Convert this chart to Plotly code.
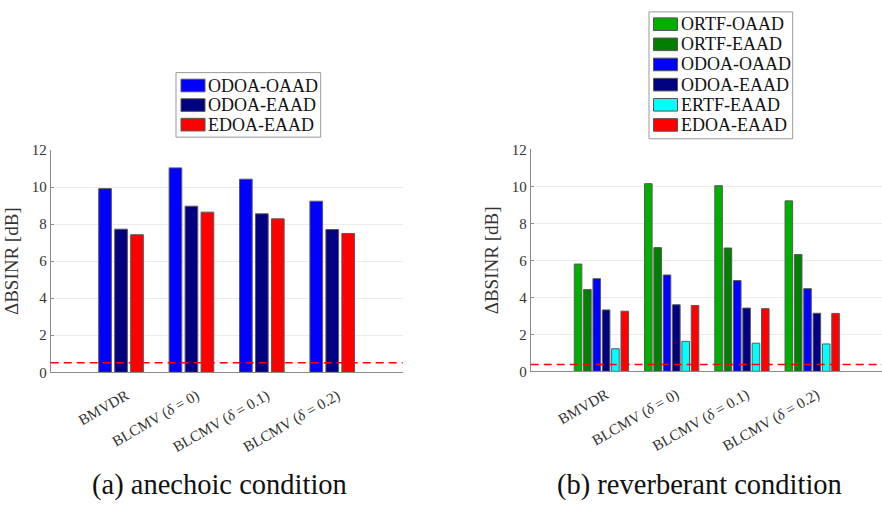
import plotly.graph_objects as go

# ---------------- data ----------------
categories = ["BMVDR", "BLCMV (δ = 0)", "BLCMV (δ = 0.1)", "BLCMV (δ = 0.2)"]
tick_labels = ["BMVDR", "BLCMV (<i>δ</i> = 0)", "BLCMV (<i>δ</i> = 0.1)", "BLCMV (<i>δ</i> = 0.2)"]

# (a) anechoic condition
a_names = ["ODOA-OAAD", "ODOA-EAAD", "EDOA-EAAD"]
a_odoa_oaad = [9.92, 11.04, 10.43, 9.24]
a_odoa_eaad = [7.73, 8.97, 8.56, 7.71]
a_edoa_eaad = [7.43, 8.65, 8.29, 7.50]
a_threshold = 0.52

# (b) reverberant condition
b_names = ["ORTF-OAAD", "ORTF-EAAD", "ODOA-OAAD", "ODOA-EAAD", "ERTF-EAAD", "EDOA-EAAD"]
b_ortf_oaad = [5.80, 10.15, 10.04, 9.22]
b_ortf_eaad = [4.42, 6.69, 6.67, 6.32]
b_odoa_oaad = [5.01, 5.21, 4.91, 4.47]
b_odoa_eaad = [3.32, 3.60, 3.42, 3.14]
b_ertf_eaad = [1.22, 1.62, 1.52, 1.48]
b_edoa_eaad = [3.25, 3.56, 3.39, 3.13]
b_threshold = 0.37

y_ticks = [0, 2, 4, 6, 8, 10, 12]
y_title = "ΔBSINR [dB]"
captions = ["(a) anechoic condition", "(b) reverberant condition"]

# ---------------- style ----------------
W, H = 882, 513
FONT = "'Liberation Serif', 'Times New Roman', 'DejaVu Serif', serif"
col = {
    "ORTF-OAAD": "#00b000",
    "ORTF-EAAD": "#007f00",
    "ODOA-OAAD": "#0000ff",
    "ODOA-EAAD": "#000080",
    "ERTF-EAAD": "#00ffff",
    "EDOA-EAAD": "#ff0000",
}
EDGE = "#5a5a5a"
AXIS = "#8a8a8a"
GRID = "#ebebeb"
TXT = "#333333"

fig = go.Figure()

a_series = [a_odoa_oaad, a_odoa_eaad, a_edoa_eaad]
b_series = [b_ortf_oaad, b_ortf_eaad, b_odoa_oaad, b_odoa_eaad, b_ertf_eaad, b_edoa_eaad]

# left panel bars
a_slot, a_width, a_start = 0.227, 0.18, -0.318
for i, (name, vals) in enumerate(zip(a_names, a_series)):
    fig.add_trace(go.Bar(
        x=categories, y=vals, name=name, xaxis="x", yaxis="y",
        width=a_width, offset=a_start + i * a_slot,
        marker=dict(color=col[name], line=dict(color=EDGE, width=1)),
        showlegend=False,
    ))

# right panel bars
b_slot, b_width, b_start = 0.133, 0.108, -0.38
for i, (name, vals) in enumerate(zip(b_names, b_series)):
    fig.add_trace(go.Bar(
        x=categories, y=vals, name=name, xaxis="x2", yaxis="y2",
        width=b_width, offset=b_start + i * b_slot,
        marker=dict(color=col[name], line=dict(color=EDGE, width=1)),
        showlegend=False,
    ))

def px_x(p):
    return p / W

def px_y(p):
    return 1 - p / H

xax = dict(
    type="category", categoryorder="array", categoryarray=categories,
    range=[-1, 4], tickvals=categories, ticktext=tick_labels, tickangle=-30,
    showline=True, linecolor=AXIS, linewidth=1, showgrid=False, ticks="",
    tickfont=dict(family=FONT, size=15, color=TXT), zeroline=False,
    ticklabelshift=5, ticklabelstandoff=8,
)
yax = dict(
    range=[0, 12], tickvals=y_ticks, showline=True, linecolor=AXIS, linewidth=1,
    showgrid=True, gridcolor=GRID, gridwidth=1, ticks="inside", ticklen=3,
    tickcolor=AXIS, tickfont=dict(family=FONT, size=15, color=TXT), zeroline=False,
    title=dict(text=y_title, font=dict(family=FONT, size=19, color=TXT), standoff=8),
)

fig.update_layout(
    width=W, height=H, margin=dict(l=0, r=0, t=0, b=0),
    paper_bgcolor="white", plot_bgcolor="white", barmode="overlay",
    font=dict(family=FONT),
    xaxis=dict(xax, domain=[px_x(50.7), px_x(402.7)], anchor="y"),
    yaxis=dict(yax, domain=[px_y(376), px_y(146.7)], anchor="x"),
    xaxis2=dict(xax, domain=[px_x(530.7), 1.0], anchor="y2"),
    yaxis2=dict(yax, domain=[px_y(375), px_y(146)], anchor="x2"),
    showlegend=False,
)

# threshold dashed lines
for xr, yr, thr in (("x domain", "y", a_threshold), ("x2 domain", "y2", b_threshold)):
    fig.add_shape(type="line", xref=xr, yref=yr, x0=0, x1=1, y0=thr, y1=thr,
                  line=dict(color="#ff0000", width=1.5, dash="8px,5px"), layer="above")

# legends (drawn boxes with swatches + real text)
def draw_legend(names, box, sw_x, row0, step, text_x):
    x0, y0, x1, y1 = box
    fig.add_shape(type="rect", xref="paper", yref="paper",
                  x0=px_x(x0), x1=px_x(x1), y0=px_y(y1), y1=px_y(y0),
                  line=dict(color="#999999", width=1), fillcolor="white", layer="above")
    for i, name in enumerate(names):
        cy = row0 + i * step
        fig.add_shape(type="rect", xref="paper", yref="paper",
                      x0=px_x(sw_x), x1=px_x(sw_x + 24), y0=px_y(cy + 6.5), y1=px_y(cy - 6.5),
                      line=dict(color="#555555", width=1), fillcolor=col[name], layer="above")
        fig.add_annotation(text=name, xref="paper", yref="paper", x=px_x(text_x), y=px_y(cy),
                           xanchor="left", yanchor="middle", showarrow=False,
                           font=dict(family=FONT, size=18, color="#111111"))

draw_legend(a_names, (176, 66.7, 320.7, 133.3), 181, 80, 20.2, 206)
draw_legend(b_names, (649, 4, 792.7, 135), 653.5, 16.7, 20.8, 679)

# captions
for text, cx in zip(captions, (219, 699)):
    fig.add_annotation(text=text, xref="paper", yref="paper", x=px_x(cx), y=px_y(492),
                       xanchor="center", yanchor="middle", showarrow=False,
                       font=dict(family=FONT, size=28.5, color="#111111"))

fig.write_html("out.html")
